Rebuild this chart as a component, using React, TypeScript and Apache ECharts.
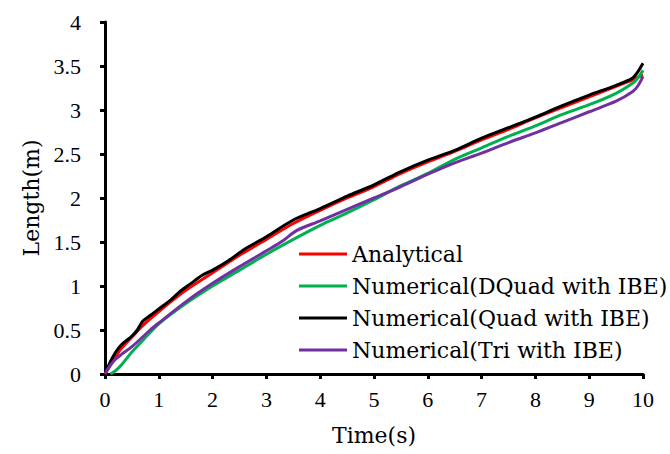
import React, { useEffect, useRef } from "react";
import * as echarts from "echarts";

const seriesNames = [
  "Analytical",
  "Numerical(DQuad with IBE)",
  "Numerical(Quad with IBE)",
  "Numerical(Tri with IBE)",
];
const seriesColors = ["#FF0000", "#00B050", "#000000", "#7030A0"];

const analytical: [number, number][] = [
  [0, 0], [0.1, 0.1], [0.2, 0.2], [0.3, 0.29], [0.5, 0.42], [0.7, 0.55], [1, 0.71],
  [1.5, 0.95], [2, 1.15], [2.5, 1.35], [3, 1.53], [3.5, 1.71], [4, 1.86], [4.5, 2.0],
  [5, 2.13], [5.5, 2.28], [6, 2.41], [6.5, 2.53], [7, 2.66], [7.5, 2.78], [8, 2.91],
  [8.5, 3.03], [9, 3.15], [9.5, 3.27], [9.8, 3.34], [9.9, 3.37], [10, 3.4],
];
const dquad: [number, number][] = [
  [0.1, 0], [0.2, 0.04], [0.3, 0.1], [0.5, 0.25], [0.7, 0.38], [1, 0.57], [1.5, 0.8],
  [2, 1.0], [2.5, 1.18], [3, 1.36], [3.5, 1.53], [4, 1.69], [4.5, 1.83], [5, 1.98],
  [5.5, 2.14], [6, 2.28], [6.5, 2.44], [7, 2.57], [7.5, 2.7], [8, 2.82], [8.5, 2.95],
  [9, 3.06], [9.5, 3.19], [9.8, 3.3], [9.9, 3.36], [10, 3.45],
];
const quad: [number, number][] = [
  [0, 0], [0.1, 0.14], [0.2, 0.25], [0.3, 0.33], [0.5, 0.43], [0.6, 0.5], [0.7, 0.6],
  [0.85, 0.67], [1, 0.74], [1.2, 0.83], [1.4, 0.94], [1.6, 1.03], [1.8, 1.12], [2, 1.18],
  [2.3, 1.29], [2.6, 1.42], [3, 1.56], [3.5, 1.75], [4, 1.88], [4.5, 2.02], [5, 2.15],
  [5.5, 2.3], [6, 2.43], [6.5, 2.54], [7, 2.68], [7.5, 2.8], [8, 2.92], [8.5, 3.05],
  [9, 3.17], [9.5, 3.28], [9.8, 3.36], [9.9, 3.43], [10, 3.53],
];
const tri: [number, number][] = [
  [0, 0], [0.1, 0.1], [0.2, 0.17], [0.3, 0.22], [0.5, 0.31], [0.84, 0.5], [1, 0.58],
  [1.5, 0.82], [2, 1.03], [2.5, 1.22], [3, 1.4], [3.3, 1.51], [3.56, 1.63], [4, 1.74],
  [4.5, 1.87], [5, 2.0], [5.5, 2.13], [6, 2.27], [6.5, 2.4], [7, 2.51], [7.5, 2.63],
  [8, 2.74], [8.5, 2.86], [9, 2.98], [9.5, 3.1], [9.81, 3.21], [9.9, 3.27], [10, 3.38],
];
const seriesData = [analytical, dquad, quad, tri];

const FONT = "DejaVu Serif";
const TICK_FONT = "Liberation Serif";

export default function App() {
  const ref = useRef<HTMLDivElement>(null);
  useEffect(() => {
    if (!ref.current) return;
    const chart = echarts.init(ref.current, null, { renderer: "svg" });
    chart.setOption({
      animation: false,
      textStyle: { fontFamily: FONT },
      grid: { left: 105, right: 27, top: 22, bottom: 80 },
      legend: {
        orient: "vertical",
        left: 294,
        top: 238,
        itemWidth: 48,
        itemHeight: 3,
        itemGap: 10,
        icon: "rect",
        data: seriesNames,
        textStyle: { fontFamily: FONT, fontSize: 22, color: "#000", lineHeight: 22 },
      },
      xAxis: {
        type: "value",
        min: 0,
        max: 10,
        interval: 1,
        name: "Time(s)",
        nameLocation: "middle",
        nameGap: 50,
        nameTextStyle: { fontFamily: FONT, fontSize: 22, color: "#000" },
        splitLine: { show: false },
        axisLine: { show: true, lineStyle: { color: "#000", width: 3 } },
        axisTick: { show: true, length: 5, lineStyle: { color: "#000", width: 3 } },
        axisLabel: { fontFamily: TICK_FONT, fontSize: 22, color: "#000", margin: 14 },
      },
      yAxis: {
        type: "value",
        min: 0,
        max: 4,
        interval: 0.5,
        name: "Length(m)",
        nameLocation: "middle",
        nameGap: 61,
        nameTextStyle: { fontFamily: FONT, fontSize: 22, color: "#000" },
        splitLine: { show: false },
        axisLine: { show: true, lineStyle: { color: "#000", width: 3 } },
        axisTick: { show: true, length: 5, lineStyle: { color: "#000", width: 3 } },
        axisLabel: { fontFamily: TICK_FONT, fontSize: 22, color: "#000", margin: 24 },
      },
      series: seriesNames.map((name, i) => ({
        name,
        type: "line",
        data: seriesData[i],
        smooth: 0.3,
        showSymbol: false,
        symbol: "none",
        color: seriesColors[i],
        lineStyle: { color: seriesColors[i], width: 3 },
      })),
    });
    return () => chart.dispose();
  }, []);
  return <div ref={ref} style={{ width: 670, height: 454, position: "absolute", left: 0, top: 0 }} />;
}
